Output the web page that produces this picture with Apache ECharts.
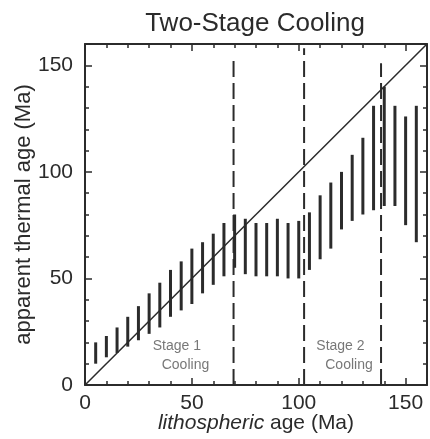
<!DOCTYPE html>
<html>
<head>
<meta charset="utf-8">
<script src="https://cdn.jsdelivr.net/npm/echarts@6/dist/echarts.min.js"></script>
<style>
html,body{margin:0;padding:0;background:#fff;}
#chart{width:430px;height:439px;}
</style>
</head>
<body>
<div id="chart"></div>
<script>
// lithospheric age (Ma) of each bar
const lithAges = [5,10,15,20,25,30,35,40,45,50,55,60,65,70,75,80,85,90,95,100,105,110,115,120,125,130,135,140,145,150,155];
// apparent thermal age range (Ma): low and high ends of each bar
const thermalLow  = [10,13,15,18,21,24,27,32,35,38,43,47,51,55,52,51,51,51,50,50,54,59,64,73,77,80,82,84,84,75,67];
const thermalHigh = [20,23,27,32,37,43,48,54,58,64,67,71,76,80,78,76,76,78,76,77,81,89,95,100,108,116,131,140,131,126,131];
// stage boundaries (Ma) and their top ends
const boundaryAges = [69.5, 102.5, 138.5];
const boundaryTops = [153, 158, 151];
// reference line (apparent = lithospheric)
const diagonal = [[0,0],[160,160]];
const xTicks = [0,50,100,150];
const yTicks = [0,50,100,150];
const titleText = 'Two-Stage Cooling';
const xName = 'lithospheric age (Ma)';
const yName = 'apparent thermal age (Ma)';
const stageNames = ['Stage 1', 'Stage 2'];
const coolingWord = 'Cooling';

const FONT = '"Liberation Sans", Arial, Helvetica, sans-serif';
const INK = '#2b2b2b';

const barData = lithAges.map((x,i)=>[x, thermalLow[i], thermalHigh[i]]);

const chart = echarts.init(document.getElementById('chart'), null, {renderer:'canvas'});

function axisCommon(showLabels){
  return {
    type:'value', min:0, max:160, interval:50,
    axisLine:{show:true, onZero:false, lineStyle:{color:INK, width:2}},
    axisTick:{show:true, inside:true, length:7, lineStyle:{color:INK, width:1.5}},
    minorTick:{show:true, splitNumber:5, length:4, lineStyle:{color:INK, width:1.5}},
    splitLine:{show:false},
    axisLabel:{show:showLabels, color:INK, fontSize:21, fontFamily:FONT,
      formatter:v=> (xTicks.indexOf(v)>=0 ? String(v) : '')}
  };
}

const xBottom = Object.assign(axisCommon(true), {position:'bottom',
  name:'{i|lithospheric} age (Ma)', nameLocation:'middle', nameGap:28, nameMoveOverlap:false,
  nameTextStyle:{color:INK, fontSize:21, fontFamily:FONT,
    rich:{i:{fontStyle:'italic', fontSize:21, fontFamily:FONT, color:INK}}}});
xBottom.axisLabel.margin = 8;
const xTop = Object.assign(axisCommon(false), {position:'top'});
const yLeft = Object.assign(axisCommon(true), {position:'left',
  name:yName, nameLocation:'middle', nameGap:50, nameMoveOverlap:false,
  nameTextStyle:{color:INK, fontSize:22, fontFamily:FONT}});
yLeft.axisLabel.margin = 12;
const yRight = Object.assign(axisCommon(false), {position:'right'});

const series = [
  {
    type:'custom', xAxisIndex:0, yAxisIndex:0,
    data:barData, encode:{x:0, y:[1,2]},
    renderItem:function(params, api){
      const x = api.value(0), lo = api.value(1), hi = api.value(2);
      const p1 = api.coord([x, lo]), p2 = api.coord([x, hi]);
      return {type:'line', shape:{x1:p1[0], y1:p1[1], x2:p2[0], y2:p2[1]},
        style:{stroke:INK, lineWidth:3}};
    },
    silent:true, z:3
  },
  {
    type:'line', xAxisIndex:0, yAxisIndex:0, data:diagonal,
    symbol:'none', lineStyle:{color:INK, width:1.5}, silent:true, z:4
  }
];
boundaryAges.forEach((x,i)=>{
  series.push({
    type:'line', xAxisIndex:0, yAxisIndex:0,
    data:[[x,0],[x,boundaryTops[i]]],
    symbol:'none', lineStyle:{color:INK, width:2, type:[16,6]}, silent:true, z:2
  });
});
// stage annotations
series.push({
  type:'scatter', xAxisIndex:0, yAxisIndex:0, symbolSize:0, silent:true,
  label:{show:true, position:'inside', color:'#555', fontSize:14, fontFamily:FONT,
    formatter:p=>p.name},
  data:[
    {name:stageNames[0], value:[43, 18]},
    {name:coolingWord, value:[47, 9.5]},
    {name:stageNames[1], value:[119.5, 18]},
    {name:coolingWord, value:[123.5, 9.5]}
  ],
  z:5
});

chart.setOption({
  animation:false,
  backgroundColor:'#fff',
  title:{text:titleText, top:6, left:250, textAlign:'center',
    textStyle:{color:INK, fontSize:26, fontWeight:'normal', fontFamily:FONT}},
  grid:{left:85, right:3, top:44, bottom:54, containLabel:false},
  xAxis:[xBottom, xTop],
  yAxis:[yLeft, yRight],
  series:series
});
</script>
</body>
</html>
